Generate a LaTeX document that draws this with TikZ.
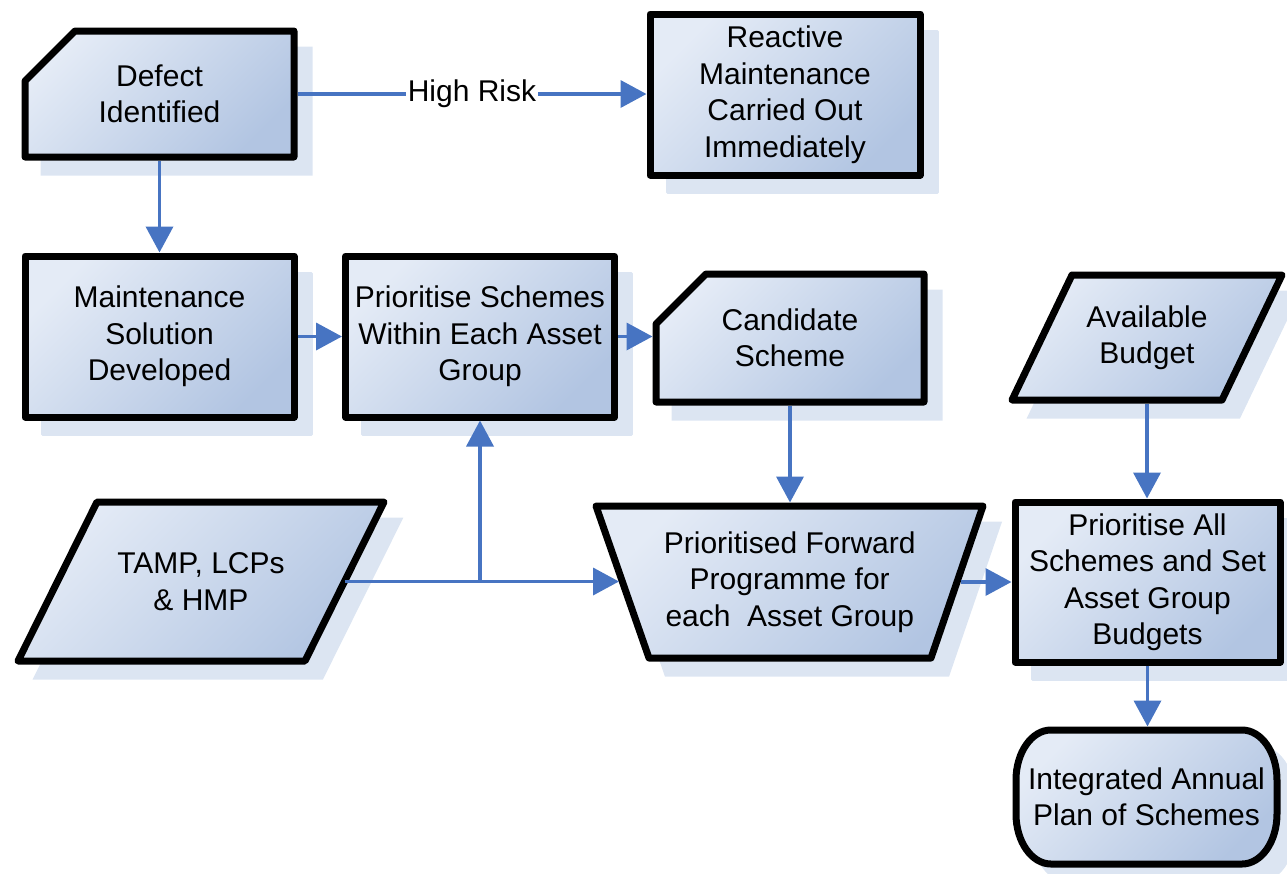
\documentclass[tikz,border=0pt]{standalone}
\usepackage{fontspec}
\setmainfont{Liberation Sans}
\usetikzlibrary{arrows.meta,shadows}

\definecolor{boxlight}{HTML}{E4EBF6}
\definecolor{boxdark}{HTML}{B2C5E2}
\definecolor{shadowblue}{HTML}{DCE5F2}
\definecolor{arrowblue}{HTML}{4774C2}

\tikzset{
  shadowed/.style={general shadow={fill=shadowblue, draw=shadowblue, line width=1.5pt,
      shadow xshift=8.5pt, shadow yshift=-8.5pt}},
  boxshape/.style={draw=black, line width=3.5pt, line join=round,
      top color=boxlight, bottom color=boxdark, shading angle=45, shadowed},
  boxtext/.style={align=center, inner sep=0pt, font=\fontsize{15pt}{18.25pt}\selectfont},
  procbox/.style={boxshape, boxtext, rectangle},
  textonly/.style={boxtext, rectangle, outer sep=1.75pt},
  conn/.style={draw=arrowblue, line width=1.85pt,
      -{Triangle[length=13pt,width=13.5pt]}},
  conntext/.style={fill=white, inner xsep=1pt, inner ysep=2pt,
      font=\fontsize{15pt}{18.25pt}\selectfont},
}

\begin{document}
\begin{tikzpicture}[x=0.5pt, y=-0.5pt]
  \useasboundingbox (0,0) rectangle (1287,874);

  % ---- shapes drawn as outlines, with a text node on each ----
  % Defect Identified (card with cut corner)
  \path[boxshape] (25,157) -- (25,81) -- (75,31) -- (294,31) -- (294,157) -- cycle;
  \node[textonly, minimum width=134.5pt, minimum height=63pt] (defect) at (159.5,94)
    {Defect\\Identified};

  % Candidate Scheme (card with cut corner)
  \path[boxshape] (656,402) -- (656,324) -- (706,274) -- (924,274) -- (924,402) -- cycle;
  \node[textonly, minimum width=134pt, minimum height=64pt] (cand) at (790,338)
    {Candidate\\Scheme};

  % Available Budget (data)
  \path[boxshape] (1072,275) -- (1282,275) -- (1222,400) -- (1012,400) -- cycle;
  \node[textonly, minimum width=105pt, minimum height=62.5pt] (budget) at (1147,337.5)
    {Available\\Budget};

  % TAMP, LCPs & HMP (data)
  \path[boxshape] (97,502) -- (384,502) -- (305,661) -- (18,661) -- cycle;
  \node[textonly, minimum width=140pt, minimum height=79.5pt] (tamp) at (201,581.5)
    {TAMP, LCPs\\\& HMP};

  % Prioritised Forward Programme (manual operation)
  \path[boxshape] (596,506) -- (983,506) -- (931,658) -- (649,658) -- cycle;
  \node[textonly, minimum width=167.25pt, minimum height=76pt] (forward) at (789.75,582)
    {Prioritised Forward\\Programme for\\each\ \ Asset Group};

  % Integrated Annual Plan (terminator)
  \path[boxshape] (1051,730) -- (1242,730)
    arc[start angle=90, end angle=0, x radius=17.5pt, y radius=25pt]
    -- (1277,814)
    arc[start angle=0, end angle=-90, x radius=17.5pt, y radius=25pt]
    -- (1051,864)
    arc[start angle=270, end angle=180, x radius=17.5pt, y radius=25pt]
    -- (1016,780)
    arc[start angle=180, end angle=90, x radius=17.5pt, y radius=25pt] -- cycle;
  \node[textonly, minimum width=130.5pt, minimum height=67pt] (plan) at (1146.5,797)
    {Integrated Annual\\Plan of Schemes};

  % ---- process boxes ----
  \node[procbox, minimum width=135pt, minimum height=80.5pt] (reactive) at (785,94.5)
    {Reactive\\Maintenance\\Carried Out\\Immediately};
  \node[procbox, minimum width=134.5pt, minimum height=80.5pt] (maint) at (159.5,336.5)
    {Maintenance\\Solution\\Developed};
  \node[procbox, minimum width=134.5pt, minimum height=80.5pt] (prior) at (480,336.5)
    {Prioritise Schemes\\Within Each Asset\\Group};
  \node[procbox, minimum width=132.5pt, minimum height=80pt] (priorall) at (1147.5,582)
    {Prioritise All\\Schemes and Set\\Asset Group\\Budgets};

  % ---- connectors ----
  \draw[conn] (defect.east) -- node[conntext] {High Risk} (defect.east -| reactive.west);
  \draw[conn] (defect.south) -- (defect.south |- maint.north);
  \draw[conn] (maint.east) -- (prior.west);
  \draw[conn] (prior.east) -- (prior.east -| cand.west);
  \draw[conn] (cand.south) -- (cand.south |- forward.north);
  \draw[conn] (budget.south) -- (budget.south |- priorall.north);
  \draw[conn] (tamp.east) -- (tamp.east -| forward.west);
  \coordinate (junction) at (prior.south |- tamp.east);
  \draw[conn] (junction) -- (prior.south);
  \draw[conn] (forward.east) -- (forward.east -| priorall.west);
  \draw[conn] (priorall.south) -- (priorall.south |- plan.north);
\end{tikzpicture}
\end{document}
